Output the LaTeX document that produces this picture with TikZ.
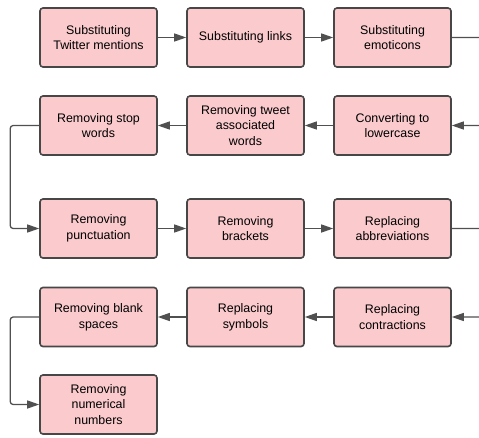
\documentclass[tikz,border=0pt]{standalone}
\usepackage{fontspec}
\setmainfont{Liberation Sans}
\usetikzlibrary{arrows.meta}

\definecolor{boxpink}{HTML}{FACACC}
\definecolor{boxline}{HTML}{474747}
\definecolor{flowline}{HTML}{505050}

\tikzset{
  stepbox/.style={draw=boxline, fill=boxpink, line width=1.6pt, rounded corners=3pt,
    minimum width=117pt, minimum height=59pt, align=center,
    font=\fontsize{12.4}{15.6}\selectfont},
  flow/.style={draw=flowline, line width=1.3pt, rounded corners=3pt,
    -{Triangle[length=12pt,width=8pt]}},
}

\begin{document}
\begin{tikzpicture}[x=1pt, y=-1pt]

  \clip (0,0) rectangle (479,437);

  % first row, left to right
  \node[stepbox] (mentions) at (98.5, 37.5) {Substituting\\Twitter mentions};
  \node[stepbox] (links) at (245.5, 37.5) {Substituting links};
  \node[stepbox] (emoticons) at (392.5, 37.5) {Substituting\\emoticons};

  % second row, right to left
  \node[stepbox] (lowercase) at (392.5, 125.5) {Converting to\\lowercase};
  \node[stepbox] (tweetwords) at (245.5, 125.5) {Removing tweet\\associated\\words};
  \node[stepbox] (stopwords) at (98.5, 125.5) {Removing stop\\words};

  % third row, left to right
  \node[stepbox] (punctuation) at (98.5, 228.5) {Removing\\punctuation};
  \node[stepbox] (brackets) at (245.5, 228.5) {Removing\\brackets};
  \node[stepbox] (abbrev) at (392.5, 228.5) {Replacing\\abbreviations};

  % fourth row, right to left
  \node[stepbox] (contractions) at (392.5, 317) {Replacing\\contractions};
  \node[stepbox] (symbols) at (245.5, 317) {Replacing\\symbols};
  \node[stepbox] (blanks) at (98.5, 317) {Removing blank\\spaces};

  % last step
  \node[stepbox] (numbers) at (98.5, 404.5) {Removing\\numerical\\numbers};

  \draw[flow] (mentions) -- (links);
  \draw[flow] (links) -- (emoticons);
  \draw[flow] (emoticons.east) -- ++(40,0) |- (lowercase.east);
  \draw[flow] (lowercase) -- (tweetwords);
  \draw[flow] (tweetwords) -- (stopwords);
  \draw[flow] (stopwords.west) -- ++(-29,0) |- (punctuation.west);
  \draw[flow] (punctuation) -- (brackets);
  \draw[flow] (brackets) -- (abbrev);
  \draw[flow] (abbrev.east) -- ++(40,0) |- (contractions.east);
  \draw[flow] (contractions) -- (symbols);
  \draw[flow] (symbols) -- (blanks);
  \draw[flow] (blanks.west) -- ++(-29,0) |- (numbers.west);

\end{tikzpicture}
\end{document}
